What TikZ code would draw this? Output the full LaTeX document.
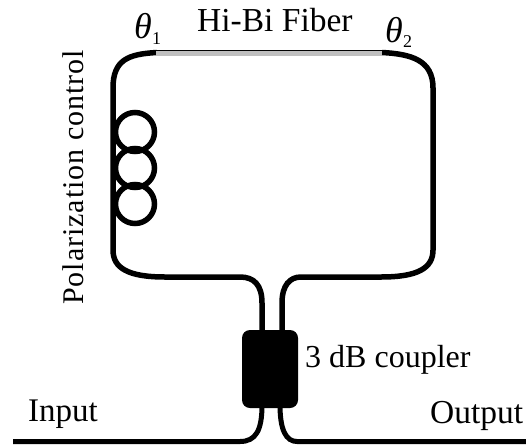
\documentclass[tikz,border=0pt]{standalone}
\usepackage{fontspec}
\setmainfont{Liberation Serif}
\newfontfamily\spaced[LetterSpace=3.2]{Liberation Serif}
\begin{document}
\begin{tikzpicture}[x=1pt,y=-1pt,
  fiber/.style={line width=5.5pt,black},
  lead/.style={line width=5pt,black},
  coil/.style={circle,draw=black,line width=5.5pt,minimum size=39pt,inner sep=0pt,outer sep=0pt},
  lab/.style={font=\fontsize{32}{36}\selectfont,inner sep=0pt,anchor=base west},
  sublab/.style={font=\fontsize{18}{20}\selectfont,inner sep=0pt,anchor=base west},
  thetalab/.style={font=\fontsize{36}{40}\selectfont\itshape,inner sep=0pt,anchor=base west}]
\useasboundingbox (0,0) rectangle (526,444);
% named junctions
\coordinate (hbL) at (157,52.5);
\coordinate (hbR) at (382,52.5);
\coordinate (cplTL) at (262,332);
\coordinate (cplTR) at (282,332);
\coordinate (cplBL) at (262,405);
\coordinate (cplBR) at (280,405);
\coordinate (inEnd) at (13,441.5);
\coordinate (outEnd) at (526,441.5);
% loop
\draw[fiber] (hbL) .. controls (128,54) and (113,60) .. (113,88) -- (113,250)
  .. controls (113,268) and (128,277) .. (165,277) -- (240,277)
  .. controls (254,277) and (262,285) .. (262,303) -- (cplTL);
\draw[fiber] (hbR) .. controls (411,54) and (433,60) .. (433,88) -- (433,250)
  .. controls (433,268) and (418,277) .. (381,277) -- (301,277)
  .. controls (290,277) and (282,285) .. (282,303) -- (cplTR);
% Hi-Bi section
\fill[black!25] (156,50) rectangle (382,55.5);
\draw[line width=1pt,black] (156,50.3) -- (382,50.3);
% coils
\node[coil] (c1) at (135,132) {};
\node[coil] (c2) at (135,168) {};
\node[coil] (c3) at (135,204) {};
% coupler
\node[fill=black,draw=none,rounded corners=8pt,minimum width=56pt,minimum height=78pt,inner sep=0pt] (cpl) at (270,369) {};
% leads
\draw[lead] (inEnd) -- (240,441.5) .. controls (256,441.5) and (262,430) .. (cplBL);
\draw[lead] (outEnd) -- (297,441.5) .. controls (286,441.5) and (280,430) .. (cplBR);
% text
\node[lab,font=\fontsize{33.5}{36}\selectfont] (hibi) at (197,32) {Hi-Bi Fiber};
\node[thetalab] (t1) at (134,38) {θ};
\node[sublab] (s1) at (152,45) {1};
\node[thetalab] (t2) at (385,42) {θ};
\node[sublab] (s2) at (403,48) {2};
\node[lab,rotate=90,font=\fontsize{30}{32}\spaced] (pc) at (83.5,305) {Polarization control};
\node[lab] (cp) at (305,367) {3 dB coupler};
\node[lab,font=\fontsize{33}{36}\selectfont] (inp) at (28,421) {Input};
\node[lab,font=\fontsize{33.5}{36}\selectfont] (outp) at (430,423) {Output};
\end{tikzpicture}
\end{document}
